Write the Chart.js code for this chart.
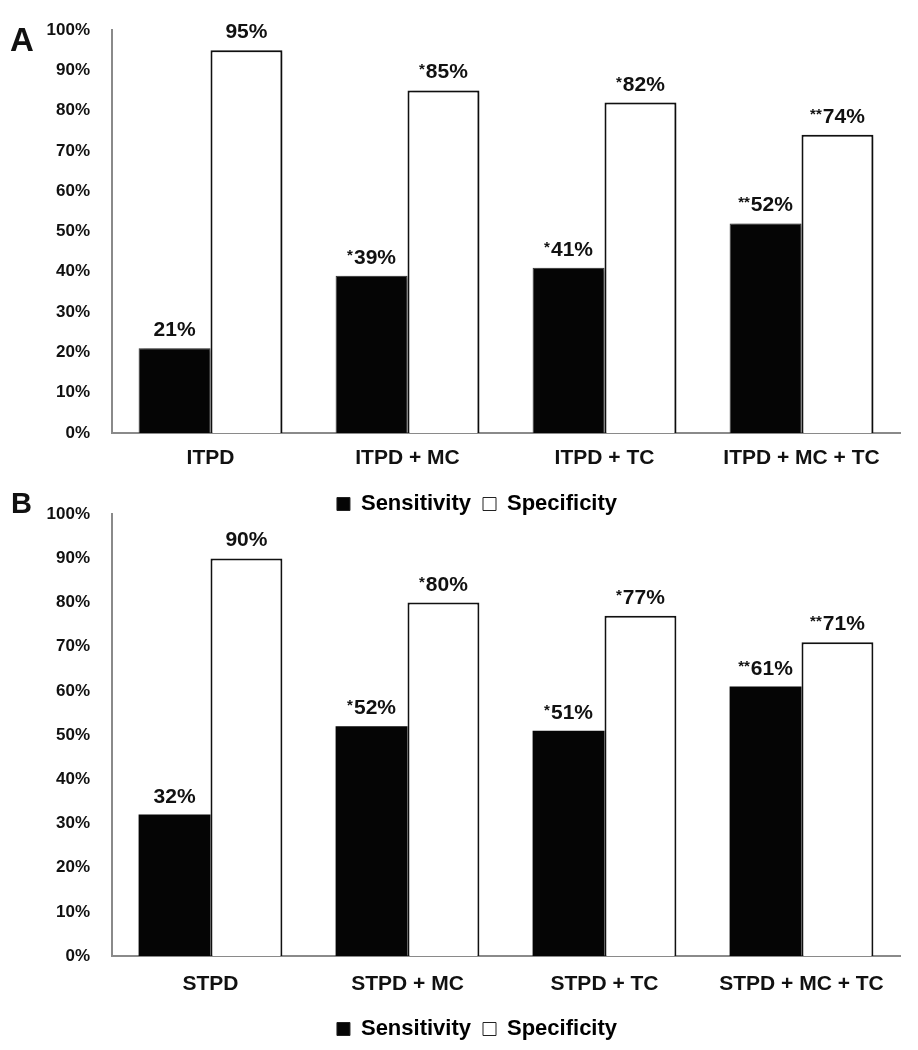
<!DOCTYPE html>
<html>
<head>
<meta charset="utf-8">
<script src="https://cdn.jsdelivr.net/npm/chart.js@4.4.1/dist/chart.umd.min.js"></script>
<style>
  html, body { margin: 0; padding: 0; background: #fff; }
  body { width: 918px; height: 1050px; position: relative; overflow: hidden; font-family: "Liberation Sans", Arial, sans-serif; }
  .wrap { position: absolute; left: 0; width: 918px; }
  #wrapA { top: 0; height: 525px; }
  #wrapB { top: 490px; height: 560px; }
  .panel { position: absolute; font-weight: bold; color: #111; z-index: 5; line-height: 1; }
  #lblA { left: 10px; top: 23px; font-size: 33px; }
  #lblB { left: 11px; top: 489px; font-size: 29px; }
</style>
</head>
<body>
<div class="panel" id="lblA">A</div>
<div class="panel" id="lblB">B</div>
<div class="wrap" id="wrapA"><canvas id="chartA"></canvas></div>
<div class="wrap" id="wrapB"><canvas id="chartB"></canvas></div>
<script>
// ---- Data ----
const categoriesA = ['ITPD', 'ITPD + MC', 'ITPD + TC', 'ITPD + MC + TC'];
const sensitivityA = [21, 39, 41, 52];
const specificityA = [95, 85, 82, 74];
const sensMarksA = ['', '*', '*', '**'];
const specMarksA = ['', '*', '*', '**'];

const categoriesB = ['STPD', 'STPD + MC', 'STPD + TC', 'STPD + MC + TC'];
const sensitivityB = [32, 52, 51, 61];
const specificityB = [90, 80, 77, 71];
const sensMarksB = ['', '*', '*', '**'];
const specMarksB = ['', '*', '*', '**'];

const seriesNames = ['Sensitivity', 'Specificity'];
const yTicks = [0, 10, 20, 30, 40, 50, 60, 70, 80, 90, 100];

const FONT = '"Liberation Sans", Arial, sans-serif';

const valueLabels = {
  id: 'valueLabels',
  afterDatasetsDraw(chart, args, opts) {
    const ctx = chart.ctx;
    ctx.save();
    ctx.fillStyle = '#111';
    ctx.textBaseline = 'alphabetic';
    chart.data.datasets.forEach((ds, di) => {
      const meta = chart.getDatasetMeta(di);
      meta.data.forEach((bar, i) => {
        const stars = ds.marks[i];
        const num = ds.data[i] + '%';
        ctx.font = 'bold 15px ' + FONT;
        const sw = stars ? ctx.measureText(stars).width + 1 : 0;
        ctx.font = 'bold 21px ' + FONT;
        const nw = ctx.measureText(num).width;
        const total = sw + nw;
        const x0 = bar.x - total / 2;
        const yb = bar.y - opts.gap;
        ctx.textAlign = 'left';
        if (stars) {
          ctx.font = 'bold 15px ' + FONT;
          ctx.fillText(stars, x0, yb - 4);
        }
        ctx.font = 'bold 21px ' + FONT;
        ctx.fillText(num, x0 + sw, yb);
      });
    });
    ctx.restore();
  }
};

const shadowPlugin = {
  id: 'barShadow',
  beforeDatasetDraw(chart, args, opts) {
    if (!opts.enabled) return;
    const ctx = chart.ctx;
    ctx.save();
    ctx.shadowColor = 'rgba(0,0,0,0.35)';
    ctx.shadowOffsetX = 3;
    ctx.shadowOffsetY = 1;
    ctx.shadowBlur = 4;
  },
  afterDatasetDraw(chart, args, opts) {
    if (!opts.enabled) return;
    chart.ctx.restore();
  }
};

// shift the legend block horizontally so it sits where the reference puts it
const legendShift = {
  id: 'legendShift',
  afterLayout(chart, args, opts) {
    if (chart.legend) {
      chart.legend.left += opts.dx;
      chart.legend.right += opts.dx;
    }
  }
};

function makeChart(id, cats, sens, spec, sMarks, pMarks, cfg) {
  return new Chart(document.getElementById(id), {
    type: 'bar',
    data: {
      labels: cats,
      datasets: [
        { label: seriesNames[0], data: sens, marks: sMarks, backgroundColor: '#050505', borderColor: cfg.blackBorder, borderWidth: cfg.blackBorderW, borderSkipped: 'bottom' },
        { label: seriesNames[1], data: spec, marks: pMarks, backgroundColor: '#ffffff', borderColor: '#111', borderWidth: cfg.whiteBorderW, borderSkipped: 'bottom' }
      ]
    },
    options: {
      responsive: true,
      maintainAspectRatio: false,
      animation: false,
      layout: { padding: { top: cfg.padTop, right: 18, left: 0, bottom: 0 } },
      datasets: { bar: { categoryPercentage: 0.73, barPercentage: 1.0 } },
      scales: {
        x: {
          grid: { display: false },
          border: { display: true, color: '#8a8a8a', width: 2 },
          ticks: { color: '#111', font: { family: FONT, size: 21, weight: 'bold' }, padding: cfg.xPad, maxRotation: 0 },
          afterFit(scale) { scale.height = cfg.xHeight; }
        },
        y: {
          min: 0, max: 100,
          afterBuildTicks(scale) { scale.ticks = yTicks.map(v => ({ value: v })); },
          grid: { display: false },
          border: { display: true, color: '#8a8a8a', width: 2 },
          ticks: { color: '#111', font: { family: FONT, size: 17, weight: 'bold' }, padding: 14, callback: v => v + '%' },
          afterFit(scale) { scale.width = 112; }
        }
      },
      plugins: {
        legend: {
          position: 'bottom',
          labels: {
            color: '#111',
            font: { family: FONT, size: 22, weight: 'bold' },
            boxWidth: 13, boxHeight: 13, padding: 12,
            generateLabels(chart) {
              return chart.data.datasets.map((ds, i) => ({
                text: ds.label, fillStyle: i === 0 ? '#050505' : '#ffffff',
                strokeStyle: '#222', lineWidth: 1, datasetIndex: i, hidden: false
              }));
            }
          }
        },
        tooltip: { enabled: false },
        valueLabels: { gap: 12 },
        barShadow: { enabled: cfg.shadow },
        legendShift: { dx: 27 }
      }
    },
    plugins: [valueLabels, shadowPlugin, legendShift]
  });
}

makeChart('chartA', categoriesA, sensitivityA, specificityA, sensMarksA, specMarksA,
  { padTop: 30, xPad: 5, xHeight: 48, whiteBorderW: 2, blackBorder: '#333', blackBorderW: 1, shadow: true });
makeChart('chartB', categoriesB, sensitivityB, specificityB, sensMarksB, specMarksB,
  { padTop: 15, xPad: 8, xHeight: 50, whiteBorderW: 2, blackBorder: '#050505', blackBorderW: 0, shadow: false });
</script>
</body>
</html>
